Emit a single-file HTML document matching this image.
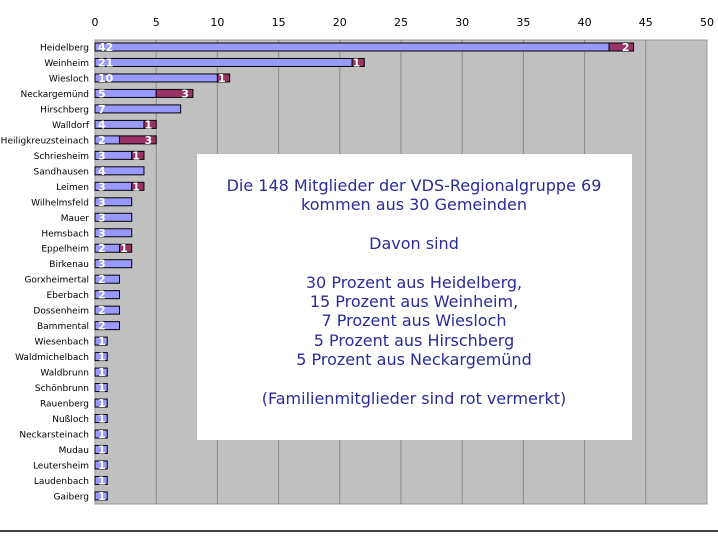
<!DOCTYPE html>
<html><head><meta charset="utf-8"><style>
body{margin:0;background:#fff;width:718px;height:539px;overflow:hidden;font-family:"DejaVu Sans","Liberation Sans",sans-serif}
svg{position:absolute;left:0;top:0}
</style></head><body>
<svg id="chart" width="718" height="539">
<rect x="95" y="40" width="612" height="464" fill="#c0c0c0" stroke="#999"/>
<g id="grid"></g><g id="ticks"></g><g id="bars"></g><g id="labels"></g>
<line x1="0" y1="531" x2="718" y2="531" stroke="#444" stroke-width="2"/>
<g>
<rect x="197" y="154" width="435" height="286" fill="#fff"/>
<g font-size="16" fill="#2b2b9a" text-anchor="middle" font-family="DejaVu Sans, sans-serif">
<text x="414" y="191">Die 148 Mitglieder der VDS-Regionalgruppe 69</text>
<text x="414" y="210">kommen aus 30 Gemeinden</text>
<text x="414" y="249">Davon sind</text>
<text x="414" y="288">30 Prozent aus Heidelberg,</text>
<text x="414" y="307">15 Prozent aus Weinheim,</text>
<text x="414" y="326">7 Prozent aus Wiesloch</text>
<text x="414" y="346">5 Prozent aus Hirschberg</text>
<text x="414" y="365">5 Prozent aus Neckargemünd</text>
<text x="414" y="404">(Familienmitglieder sind rot vermerkt)</text>
</g></g>
</svg>
<script>
const categories=["Heidelberg","Weinheim","Wiesloch","Neckargemünd","Hirschberg","Walldorf","Heiligkreuzsteinach","Schriesheim","Sandhausen","Leimen","Wilhelmsfeld","Mauer","Hemsbach","Eppelheim","Birkenau","Gorxheimertal","Eberbach","Dossenheim","Bammental","Wiesenbach","Waldmichelbach","Waldbrunn","Schönbrunn","Rauenberg","Nußloch","Neckarsteinach","Mudau","Leutersheim","Laudenbach","Gaiberg"];
const members=[42,21,10,5,7,4,2,3,4,3,3,3,3,2,3,2,2,2,2,1,1,1,1,1,1,1,1,1,1,1];
const family=[2,1,1,3,0,1,3,1,0,1,0,0,0,1,0,0,0,0,0,0,0,0,0,0,0,0,0,0,0,0];
const tickValues=[0,5,10,15,20,25,30,35,40,45,50];
const NS="http://www.w3.org/2000/svg";
const X=v=>95+v*12.24;
const Y=i=>47+i*15.48;
function mk(tag,attrs,parent){const e=document.createElementNS(NS,tag);for(const k in attrs)e.setAttribute(k,attrs[k]);parent.appendChild(e);return e;}
const grid=document.getElementById('grid'),ticks=document.getElementById('ticks'),bars=document.getElementById('bars'),labels=document.getElementById('labels');
tickValues.forEach(t=>{
 if(t>0&&t<50){const l=mk('line',{x1:X(t),x2:X(t),y1:40,y2:504,stroke:'#8a8a8a'},grid);
 
 }
 const tx=mk('text',{x:X(t),y:26,'font-size':11,'text-anchor':'middle',fill:'#000'},ticks);tx.textContent=t;
 
 
});
categories.forEach((c,i)=>{
 const y=Y(i);
 const lb=mk('text',{x:89,y:y+3.5,'font-size':9,'text-anchor':'end',fill:'#000'},labels);lb.textContent=c;
 
 
 const b=mk('rect',{x:X(0),y:y-4,width:X(members[i])-X(0),height:8,fill:'#9999ff',stroke:'#000','stroke-width':1},bars);
 
 
 const t=mk('text',{x:X(0)+3,y:y+4,'font-size':11,'font-weight':'bold',fill:'#fff'},bars);t.textContent=members[i];
 
 
 if(family[i]>0){
  const f=mk('rect',{x:X(members[i]),y:y-4,width:X(members[i]+family[i])-X(members[i]),height:8,fill:'#993366',stroke:'#000','stroke-width':1},bars);
  
  
  const ft=mk('text',{x:X(members[i]+family[i])-4,y:y+4,'font-size':11,'font-weight':'bold',fill:'#fff','text-anchor':'end'},bars);ft.textContent=family[i];
  
  
 }
});
</script>
</body></html>
